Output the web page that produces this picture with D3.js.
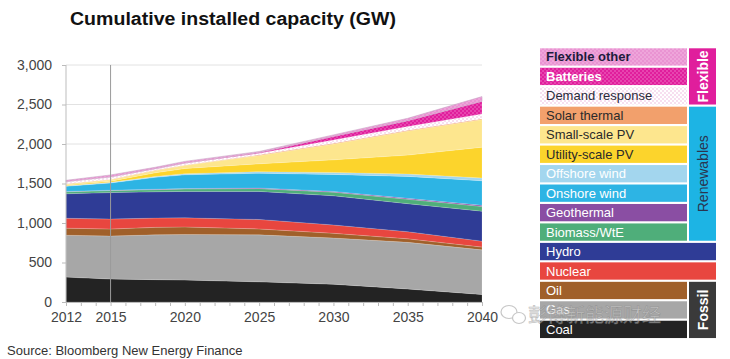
<!DOCTYPE html>
<html>
<head>
<meta charset="utf-8">
<script src="https://cdn.jsdelivr.net/npm/d3@7/dist/d3.min.js"></script>
<style>
  html, body { margin: 0; padding: 0; background: #fff; }
  svg { display: block; font-family: "Liberation Sans", Arial, sans-serif; }
</style>
</head>
<body>
<svg id="chart" width="730" height="359"></svg>
<script>
// ---------- DATA (GW) ----------
const years = [2012, 2015, 2018, 2020, 2025, 2030, 2035, 2040];
const coal          = [315, 291, 283, 278, 255, 225, 165,  95];
const gas           = [530, 544, 567, 577, 595, 585, 590, 565];
const oil           = [ 90,  89,  95,  95,  75,  60,  45,  35];
const nuclear       = [125, 126, 117, 115, 120, 105,  90,  75];
const hydro         = [310, 335, 333, 335, 355, 370, 355, 380];
const biomass       = [ 25,  25,  27,  30,  35,  45,  55,  60];
const geothermal    = [  5,   5,   6,   6,   8,  10,  12,  14];
const onshoreWind   = [ 65,  92, 150, 174, 187, 215, 278, 311];
const offshoreWind  = [  5,   8,  12,  15,  20,  25,  30,  35];
const utilityPV     = [ 10,  15,  45,  65, 100, 160, 240, 390];
const smallPV       = [ 15,  20,  30,  40, 105, 200, 305, 350];
const solarThermal  = [  3,   3,   5,   5,   8,  10,  10,  10];
const demandResp    = [ 25,  28,  15,  20,  20,  40,  45,  60];
const batteries     = [  0,   1,   2,   3,   8,  45,  75, 160];
const flexOther     = [ 17,  26,  18,  22,  14,  20,  30,  60];

const seriesNames = ["Coal","Gas","Oil","Nuclear","Hydro","Biomass/WtE","Geothermal",
  "Onshore wind","Offshore wind","Utility-scale PV","Small-scale PV","Solar thermal",
  "Demand response","Batteries","Flexible other"];
const seriesValues = [coal, gas, oil, nuclear, hydro, biomass, geothermal, onshoreWind,
  offshoreWind, utilityPV, smallPV, solarThermal, demandResp, batteries, flexOther];

const yTicks = [0, 500, 1000, 1500, 2000, 2500, 3000];
const xTickLabels = [2012, 2015, 2020, 2025, 2030, 2035, 2040];
const title = "Cumulative installed capacity (GW)";
const source = "Source: Bloomberg New Energy Finance";
const groups = [
  {name: "Flexible", from: 0, to: 2},
  {name: "Renewables", from: 3, to: 9},
  {name: "Fossil", from: 12, to: 14}
];
const watermark = "彭博新能源财经";

// ---------- STYLE ----------
const fills = {
  "Coal": "#232323", "Gas": "#a7a7a7", "Oil": "#a0602a", "Nuclear": "#e8463f",
  "Hydro": "#2f3c96", "Biomass/WtE": "#4fae7a", "Geothermal": "#8a4ea3",
  "Onshore wind": "#2db4e4", "Offshore wind": "#a3d6ee", "Utility-scale PV": "#fcd42c",
  "Small-scale PV": "#fde68e", "Solar thermal": "#f2a06c",
  "Demand response": "url(#pDR)", "Batteries": "url(#pBat)", "Flexible other": "url(#pFlex)"
};
const textCol = {
  "Flexible other": "#1c1c3c", "Demand response": "#2a2a3a", "Solar thermal": "#2a2a2a",
  "Small-scale PV": "#2a2a2a", "Utility-scale PV": "#2a2a2a"
};
const boldRows = new Set(["Flexible other", "Batteries"]);
const fullRows = new Set(["Hydro", "Nuclear"]);

const svg = d3.select("#chart");
const defs = svg.append("defs");
function dotPattern(id, bg, dot, r, size) {
  const p = defs.append("pattern").attr("id", id).attr("patternUnits", "userSpaceOnUse")
    .attr("width", size).attr("height", size);
  p.append("rect").attr("width", size).attr("height", size).attr("fill", bg);
  p.append("circle").attr("cx", size/4).attr("cy", size/4).attr("r", r).attr("fill", dot);
  p.append("circle").attr("cx", 3*size/4).attr("cy", 3*size/4).attr("r", r).attr("fill", dot);
}
dotPattern("pDR", "#ffffff", "#e9a6d6", 0.7, 4);
dotPattern("pBat", "#e01e9c", "#f48ad0", 0.7, 4);
dotPattern("pFlex", "#e993d2", "#f7c6ea", 0.7, 4);

// ---------- SCALES ----------
const x = d3.scaleLinear().domain([2012, 2040]).range([66, 482]);
const y = d3.scaleLinear().domain([0, 3000]).range([302, 65]);

// table for stack
const table = years.map((yr, i) => {
  const row = {year: yr};
  seriesNames.forEach((n, k) => row[n] = seriesValues[k][i]);
  return row;
});
const stacked = d3.stack().keys(seriesNames)(table);

// gridlines
svg.append("g").selectAll("line").data(yTicks.filter(d => d > 0)).join("line")
  .attr("x1", x(2012)).attr("x2", x(2040))
  .attr("y1", d => y(d)).attr("y2", d => y(d))
  .attr("stroke", "#e2e2e2").attr("stroke-width", 1);

// areas
const area = d3.area().x(d => x(d.data.year)).y0(d => y(d[0])).y1(d => y(d[1]));
svg.append("g").selectAll("path").data(stacked).join("path")
  .attr("d", area)
  .attr("fill", d => fills[d.key])
  .attr("stroke", d => d.key === "Flexible other" ? "#c7a9c6" : "rgba(255,255,255,0.25)")
  .attr("stroke-width", 0.6);

// vertical reference line at 2015 and y axis line
svg.append("line").attr("x1", x(2015)).attr("x2", x(2015)).attr("y1", y(3000)).attr("y2", y(0))
  .attr("stroke", "#9a9a9a").attr("stroke-width", 1);
svg.append("line").attr("x1", x(2012)).attr("x2", x(2012)).attr("y1", y(3000)).attr("y2", y(0))
  .attr("stroke", "#bdbdbd").attr("stroke-width", 1);

// y axis
const yAxis = d3.axisLeft(y).tickValues(yTicks).tickFormat(d3.format(",")).tickSize(4).tickPadding(10);
const gy = svg.append("g").attr("transform", `translate(${x(2012)},0)`).call(yAxis);
gy.select(".domain").remove();
gy.selectAll(".tick line").attr("stroke", "#bbb");
gy.selectAll("text").attr("fill", "#444").style("font-size", "14px");

// x axis
const xAxis = d3.axisBottom(x).tickValues(d3.range(2012, 2041)).tickSize(4)
  .tickFormat(d => xTickLabels.includes(d) ? d : "").tickPadding(6);
const gx = svg.append("g").attr("transform", `translate(0,${y(0)})`).call(xAxis);
gx.select(".domain").attr("stroke", "#bbb");
gx.selectAll(".tick line").attr("stroke", "#bbb");
gx.selectAll("text").attr("fill", "#444").style("font-size", "14px");

// title
svg.append("text").attr("x", 70).attr("y", 25).text(title)
  .style("font-weight", "bold").style("font-size", "18px").attr("fill", "#111")
  .attr("textLength", 326).attr("lengthAdjust", "spacingAndGlyphs");

// source
svg.append("text").attr("x", 7).attr("y", 355).text(source)
  .style("font-size", "13px").attr("fill", "#333");

// ---------- LEGEND ----------
const legendOrder = seriesNames.slice().reverse();
const lx = 540, lw = 147, rowPitch = 19.46, rowH = 17.3, ly0 = 48.3;
const gl = svg.append("g");
legendOrder.forEach((n, i) => {
  const yy = ly0 + i * rowPitch;
  gl.append("rect").attr("x", lx).attr("y", yy)
    .attr("width", fullRows.has(n) ? 176 : lw).attr("height", rowH)
    .attr("fill", fills[n]);
  gl.append("text").attr("x", lx + 6).attr("y", yy + rowH / 2 + 4.5).text(n)
    .style("font-size", "13px").style("font-weight", boldRows.has(n) ? "bold" : "normal")
    .attr("fill", textCol[n] || "#ffffff");
});
const groupStyle = {
  "Flexible": {fill: "#e01e9c", text: "#ffffff", bold: true},
  "Renewables": {fill: "#1db4e4", text: "#2a3550", bold: false},
  "Fossil": {fill: "#3a3a3a", text: "#ffffff", bold: true}
};
groups.forEach(g => {
  const y1 = ly0 + g.from * rowPitch, y2 = ly0 + g.to * rowPitch + rowH;
  const st = groupStyle[g.name];
  gl.append("rect").attr("x", 689).attr("y", y1).attr("width", 27).attr("height", y2 - y1)
    .attr("fill", st.fill);
  gl.append("text").attr("transform", `translate(${689 + 13.5 + 5},${(y1 + y2) / 2}) rotate(-90)`)
    .attr("text-anchor", "middle").text(g.name)
    .style("font-size", "14px").style("font-weight", st.bold ? "bold" : "normal")
    .attr("fill", st.text);
});

// watermark
const wm = svg.append("g").attr("opacity", 0.55);
wm.append("ellipse").attr("cx", 509).attr("cy", 312).attr("rx", 8).attr("ry", 6.5)
  .attr("fill", "none").attr("stroke", "#999").attr("stroke-width", 1.2);
wm.append("ellipse").attr("cx", 519).attr("cy", 318).attr("rx", 6.5).attr("ry", 5.5)
  .attr("fill", "#fff").attr("stroke", "#999").attr("stroke-width", 1.2);
wm.append("text").attr("x", 528).attr("y", 322).text(watermark)
  .style("font-family", "'Noto Sans CJK SC'").style("font-size", "19px")
  .attr("fill", "#d8d8d8").attr("stroke", "#888").attr("stroke-width", 0.6);
</script>
</body>
</html>
